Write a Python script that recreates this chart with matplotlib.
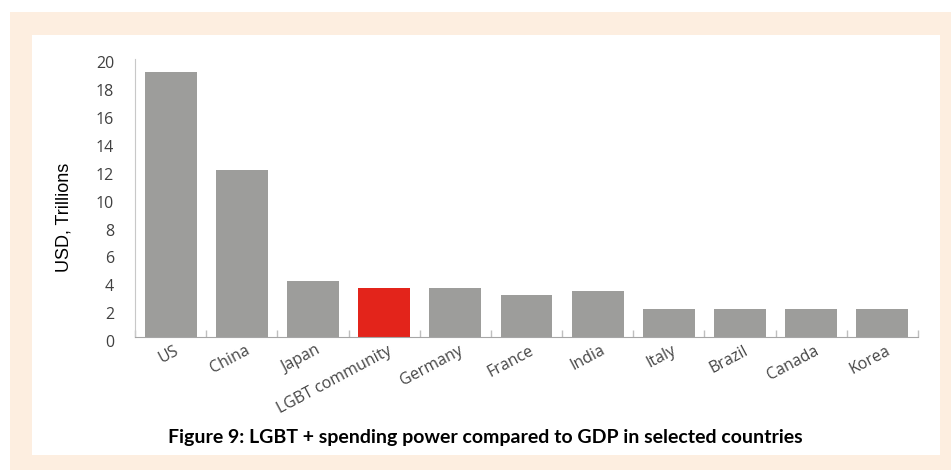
import matplotlib.pyplot as plt
import matplotlib.transforms as mtransforms
from matplotlib.patches import Rectangle

countries = ["US", "China", "Japan", "LGBT community", "Germany", "France",
             "India", "Italy", "Brazil", "Canada", "Korea"]
values = [19.0, 12.0, 4.0, 3.5, 3.5, 3.0, 3.3, 2.0, 2.0, 2.0, 2.0]
highlight = "LGBT community"
y_ticks = [0, 2, 4, 6, 8, 10, 12, 14, 16, 18, 20]

W, H = 951, 470
fig = plt.figure(figsize=(W / 100, H / 100), dpi=100)
fig.patch.set_facecolor("white")

# beige frame and white inner panel
fig.patches.append(Rectangle((10 / W, 0), 941 / W, 458 / H, transform=fig.transFigure,
                             facecolor="#fdeee0", edgecolor="none", zorder=-2))
fig.patches.append(Rectangle((32 / W, 15 / H), 908 / W, 420 / H, transform=fig.transFigure,
                             facecolor="white", edgecolor="none", zorder=-1))

ax = fig.add_axes([135 / W, 1 - 337 / H, 783 / W, (337 - 58.5) / H])
ax.set_facecolor("none")

colors = ["#e3241b" if c == highlight else "#9d9d9b" for c in countries]
x = list(range(len(countries)))
ax.bar(x, values, width=0.73, color=colors, zorder=2)

ax.set_xlim(-0.5, len(countries) - 0.5)
ax.set_ylim(0, 20)
ax.set_yticks(y_ticks)
ax.set_yticklabels([str(t) for t in y_ticks], fontsize=11.5, color="#404040",
                   family="Open Sans")
ax.tick_params(axis="y", length=0, pad=15)
offset = mtransforms.ScaledTranslation(0, -4 / 100, fig.dpi_scale_trans)
for lbl in ax.get_yticklabels():
    lbl.set_transform(lbl.get_transform() + offset)

ax.set_xticks(x)
ax.set_xticklabels(countries, rotation=28, ha="right", rotation_mode="anchor",
                   fontsize=11.5, color="#454545", family="Open Sans")
ax.tick_params(axis="x", which="major", length=0, pad=4)
ax.set_xticks([i - 0.5 for i in range(len(countries) + 1)], minor=True)
ax.tick_params(axis="x", which="minor", direction="in", length=5, width=1,
               color="#bfbfbf")
xoff = mtransforms.ScaledTranslation(3 / 100, 0, fig.dpi_scale_trans)
for lbl in ax.get_xticklabels():
    lbl.set_transform(lbl.get_transform() + xoff)

for s in ["top", "right"]:
    ax.spines[s].set_visible(False)
ax.spines["left"].set_color("#c8c8c8")
ax.spines["bottom"].set_color("#a6a6a6")

fig.text(64 / W, 1 - 217 / H, "USD, Trillions", rotation=90, ha="center", va="center",
         fontsize=13, color="black", family="Liberation Sans")
fig.text(485 / W, 1 - 437 / H,
         "Figure 9: LGBT + spending power compared to GDP in selected countries",
         ha="center", va="center", fontsize=14, fontweight="bold", color="black",
         family="Lato")

fig.savefig("out.png", dpi=100)
